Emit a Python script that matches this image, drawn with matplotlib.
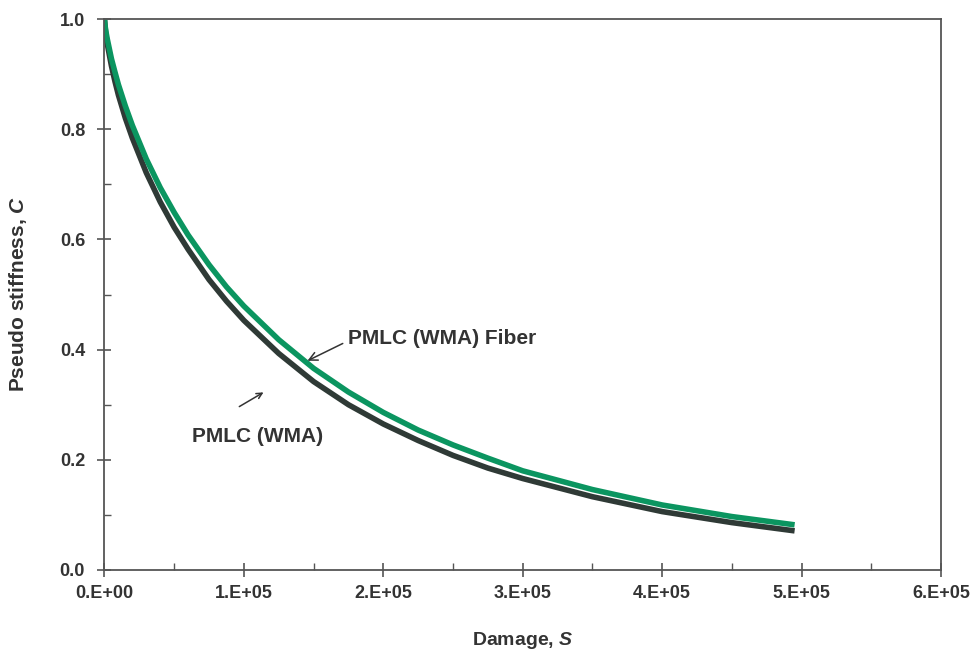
import matplotlib
matplotlib.use("Agg")
import matplotlib.pyplot as plt
from matplotlib.ticker import MultipleLocator, FuncFormatter

plt.rcParams["font.family"] = ["Liberation Sans", "DejaVu Sans"]
plt.rcParams["font.weight"] = "bold"
plt.rcParams["mathtext.fontset"] = "custom"
plt.rcParams["mathtext.it"] = "Liberation Sans:italic:bold"
plt.rcParams["mathtext.rm"] = "Liberation Sans:bold"

# Damage S and pseudo stiffness C for the two mixtures
damage = [0, 500, 1e3, 2e3, 5e3, 7.5e3, 1e4, 1.5e4, 2e4, 3e4, 4e4, 5e4, 6e4,
          7.5e4, 8.75e4, 1e5, 1.25e5, 1.5e5, 1.75e5, 2e5, 2.25e5, 2.5e5,
          2.75e5, 3e5, 3.5e5, 4e5, 4.5e5, 4.95e5]
c_wma = [1.0, 0.984, 0.972, 0.955, 0.915, 0.887, 0.862, 0.820, 0.784, 0.721,
         0.668, 0.622, 0.582, 0.527, 0.488, 0.453, 0.393, 0.342, 0.300, 0.265,
         0.235, 0.208, 0.185, 0.166, 0.133, 0.106, 0.086, 0.071]
c_fiber = [1.0, 0.987, 0.978, 0.964, 0.928, 0.904, 0.881, 0.842, 0.807, 0.746,
           0.694, 0.649, 0.608, 0.554, 0.514, 0.479, 0.418, 0.366, 0.323, 0.286,
           0.254, 0.227, 0.203, 0.180, 0.146, 0.118, 0.097, 0.082]

fig = plt.figure(figsize=(9.79, 6.56), dpi=100)
ax = fig.add_axes([0.1067, 0.1311, 0.8545, 0.8399])

ax.plot(damage, c_wma, color="#2f3a36", lw=4.0, solid_capstyle="butt")
ax.plot(damage, c_fiber, color="#0b9560", lw=4.0, solid_capstyle="butt")

ax.set_xlim(0, 6e5)
ax.set_ylim(0, 1.0)
ax.xaxis.set_major_locator(MultipleLocator(1e5))
ax.xaxis.set_minor_locator(MultipleLocator(0.5e5))
ax.yaxis.set_major_locator(MultipleLocator(0.2))
ax.yaxis.set_minor_locator(MultipleLocator(0.1))
ax.xaxis.set_major_formatter(FuncFormatter(lambda v, p: "%d.E+%02d" % (round(v / 1e5), 5 if v else 0)))
ax.yaxis.set_major_formatter(FuncFormatter(lambda v, p: "%.1f" % v))

for s in ax.spines.values():
    s.set_color("#555555")
    s.set_linewidth(1.3)
ax.tick_params(which="major", direction="inout", length=10, width=1.2, color="#555555",
               labelsize=13, labelcolor="#333333")
ax.tick_params(axis="y", which="major", pad=9)
ax.tick_params(axis="x", which="major", pad=6)
ax.tick_params(which="minor", direction="in", length=5, width=1.0, color="#555555")
ax.tick_params(top=False, right=False, which="both")

ax.set_xlabel("Damage, $S$", fontsize=14, fontweight="bold", color="#333333", labelpad=20)
ax.set_ylabel("Pseudo stiffness, $C$", fontsize=15, fontweight="bold", color="#333333", labelpad=22)

arrow = dict(arrowstyle="->", color="#333333", lw=1.1)
ax.annotate("PMLC (WMA) Fiber", xy=(1.438e5, 0.3775), xytext=(1.747e5, 0.421),
            fontsize=15, fontweight="bold", color="#333333", va="center",
            arrowprops=dict(arrow, relpos=(0, 0.35)))
ax.annotate("", xy=(1.158e5, 0.325), xytext=(0.950e5, 0.294), arrowprops=arrow)
ax.text(0.628e5, 0.243, "PMLC (WMA)", fontsize=15, fontweight="bold",
        color="#333333", va="center")

fig.savefig("out.png", dpi=100)
